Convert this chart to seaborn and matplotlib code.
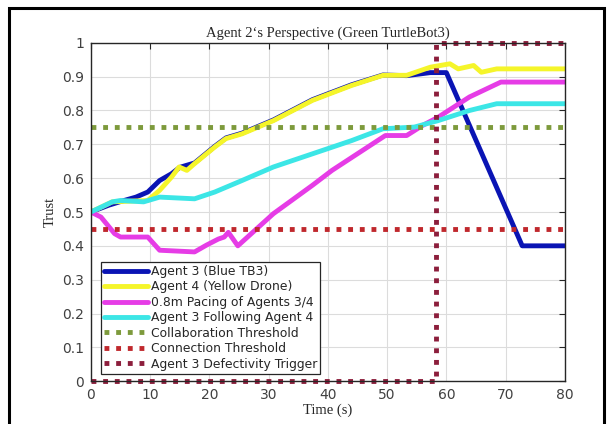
"""
Trust over time from Agent 2's perspective (Green TurtleBot3)
"""

import matplotlib

matplotlib.use("Agg")
import matplotlib.pyplot as plt
import pandas as pd
import seaborn as sns
from matplotlib.patches import Rectangle

# Agent 3 (Blue TB3)
blue_t = [0, 3, 5.6, 7.6, 9.6, 11.6, 13.6, 15, 17.5, 20.9, 22.8, 25.5, 30.8, 37.4, 44, 49.3,
          53.3, 57.3, 60, 72.8, 80]
blue_v = [0.5, 0.52, 0.534, 0.544, 0.559, 0.593, 0.613, 0.632, 0.645, 0.694, 0.719, 0.733,
          0.772, 0.832, 0.876, 0.905, 0.903, 0.912, 0.912, 0.4, 0.4]

# Agent 4 (Yellow Drone)
yellow_t = [0, 3.6, 9.6, 11.6, 13.6, 14.9, 16.2, 17.5, 20.9, 22.8, 25.5, 30.8, 37.4, 44,
            49.3, 53.3, 57.3, 60.6, 62, 64.6, 65.9, 68.5, 80]
yellow_v = [0.5, 0.53, 0.534, 0.564, 0.603, 0.633, 0.623, 0.643, 0.692, 0.717, 0.731, 0.77,
            0.83, 0.874, 0.904, 0.904, 0.928, 0.938, 0.923, 0.933, 0.913, 0.923, 0.923]

# 0.8m Pacing of Agents 3/4
pacing_t = [0, 1.7, 4, 5, 9.6, 11.6, 17.5, 19.5, 21.5, 22.5, 23.2, 24.8, 30.8, 37.4, 40.7,
            49.7, 53.3, 56, 58.6, 63.9, 69.2, 80]
pacing_v = [0.5, 0.485, 0.436, 0.426, 0.426, 0.387, 0.382, 0.402, 0.42, 0.426, 0.44, 0.40,
            0.495, 0.579, 0.623, 0.726, 0.726, 0.756, 0.78, 0.84, 0.884, 0.884]

# Agent 3 Following Agent 4
follow_t = [0, 3.6, 5, 8.9, 11.6, 17.5, 20.9, 25.5, 30.8, 37.4, 44, 49.3, 54.6, 58.6, 63.9,
            68.5, 80]
follow_v = [0.5, 0.53, 0.534, 0.53, 0.544, 0.539, 0.559, 0.593, 0.633, 0.672, 0.711, 0.746,
            0.751, 0.77, 0.80, 0.82, 0.82]

# thresholds and trigger
collab_t = [0, 80]
collab_v = [0.75, 0.75]
connect_t = [0, 80]
connect_v = [0.45, 0.45]
trigger_t = [0, 58.3, 58.3, 80]
trigger_v = [0, 0, 1, 1]

solid = [
    ("Agent 3 (Blue TB3)", blue_t, blue_v, "#0a14b4"),
    ("Agent 4 (Yellow Drone)", yellow_t, yellow_v, "#f5f52a"),
    ("0.8m Pacing of Agents 3/4", pacing_t, pacing_v, "#e63ce6"),
    ("Agent 3 Following Agent 4", follow_t, follow_v, "#3ce6e6"),
]
dotted = [
    ("Collaboration Threshold", collab_t, collab_v, "#7d9a3c"),
    ("Connection Threshold", connect_t, connect_v, "#c0282d"),
    ("Agent 3 Defectivity Trigger", trigger_t, trigger_v, "#8c1e3c"),
]

sns.set_style("whitegrid")
fig = plt.figure(figsize=(6.1, 4.24), dpi=100)
ax = fig.add_axes([0.149, 0.101, 0.777, 0.798])

for label, t, v, color in solid:
    df = pd.DataFrame({"Time": t, "Trust": v})
    sns.lineplot(data=df, x="Time", y="Trust", ax=ax, color=color, lw=3.5,
                 label=label, sort=False, estimator=None)

for label, t, v, color in dotted:
    df = pd.DataFrame({"Time": t, "Trust": v})
    sns.lineplot(data=df, x="Time", y="Trust", ax=ax, color=color, lw=3.5,
                 label=label, sort=False, estimator=None)
    ax.lines[-1].set_linestyle((0, (1, 1.4)))
    ax.lines[-1].set_dash_capstyle("butt")
    ax.lines[-1].set_clip_on(False)

ax.set_xlim(0, 80)
ax.set_ylim(0, 1)
ax.set_xticks(range(0, 81, 10))
ax.set_yticks([i / 10 for i in range(11)])
ax.set_yticklabels(["0", "0.1", "0.2", "0.3", "0.4", "0.5", "0.6", "0.7", "0.8", "0.9", "1"])
ax.grid(True, color="#dcdcdc", lw=0.8)
for s in ax.spines.values():
    s.set_color("#262626")
    s.set_linewidth(1.0)
ax.tick_params(direction="in", top=True, right=True, length=4, width=0.8,
               labelsize=10, labelcolor="#404040", colors="#262626", pad=5)
for lab in ax.get_xticklabels() + ax.get_yticklabels():
    lab.set_color("#404040")

serif = "Liberation Serif"
ax.set_title("Agent 2\u2018s Perspective (Green TurtleBot3)", family=serif, fontsize=10.5,
             pad=4)
ax.set_xlabel("Time (s)", family=serif, fontsize=10.5, labelpad=1)
ax.set_ylabel("Trust", family=serif, fontsize=10.5, labelpad=4)

leg = ax.legend(loc="lower left", bbox_to_anchor=(0.018, 0.018), fontsize=8.9,
                handlelength=3.6, handletextpad=0.2, labelspacing=0.2,
                borderpad=0.25, borderaxespad=0.1, frameon=True, fancybox=False,
                framealpha=1)
leg.get_frame().set_edgecolor("#262626")
leg.get_frame().set_linewidth(0.9)
for txt in leg.get_texts():
    txt.set_color("#262626")

# outer frame around the figure
fig.patches.append(Rectangle((0.015, -0.1), 0.975, 1.08, transform=fig.transFigure,
                             fill=False, edgecolor="black", lw=2.2))

fig.savefig("out.png", dpi=100)
